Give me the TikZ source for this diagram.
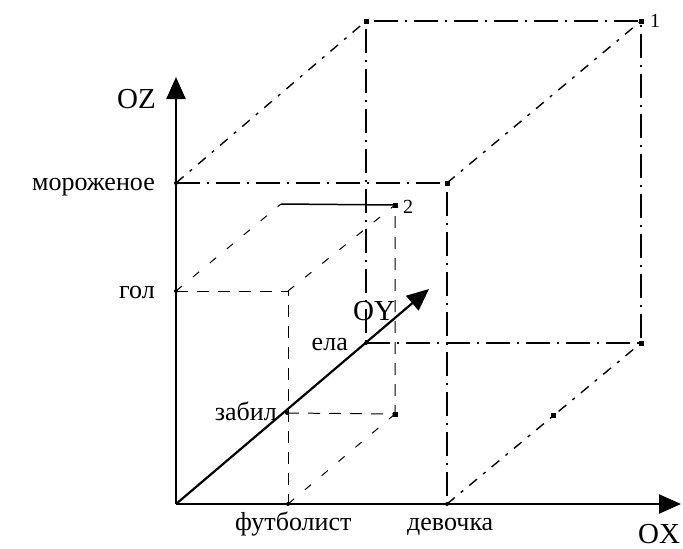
\documentclass[tikz,border=0pt]{standalone}
\usepackage{fontspec}
\setmainfont{Liberation Serif}
\usetikzlibrary{arrows.meta,positioning}

\tikzset{
  axis/.style={line width=2.2pt, -{Triangle[length=22pt,width=19pt]}},
  dashbox/.style={line width=1pt, dash pattern=on 12pt off 9pt},
  dashdiag/.style={line width=1pt, dash pattern=on 8pt off 14pt},
  dotbox/.style={line width=1.3pt, dash pattern=on 24pt off 7pt on 2pt off 7pt},
  dotdiag/.style={line width=1.4pt, dash pattern=on 10pt off 8pt on 3pt off 8pt},
  sqdot/.style={fill, inner sep=0pt, minimum size=5pt},
  axdot/.style={fill, circle, inner sep=0pt, minimum size=4pt},
  lbl/.style={inner sep=0pt, font=\fontsize{26}{28}\selectfont},
  axlbl/.style={inner sep=0pt, font=\fontsize{29}{32}\selectfont},
  numlbl/.style={inner sep=0pt, font=\fontsize{20}{22}\selectfont},
}

\begin{document}
\begin{tikzpicture}[x=1pt,y=-1pt]
    \useasboundingbox (0,0) rectangle (683,549);

    % points on the axes
    \coordinate (O) at (176,504);
    \coordinate (xend) at (681,504);
    \coordinate (zend) at (176,77);
    \coordinate (yend) at (429,289);
    \coordinate (fut) at (288,504);
    \coordinate (dev) at (447,504);
    \coordinate (gol) at (176,291);
    \coordinate (mor) at (176,183);
    \coordinate (zab) at (287,413);
    \coordinate (ela) at (366,343);

    % corners of the box of point 2
    \coordinate (golfut) at (288,291);
    \coordinate (golzab) at (281,204);
    \coordinate (p2) at (395,205);
    \coordinate (p2low) at (395,414);

    % corners of the box of point 1
    \coordinate (mordev) at (447,183);
    \coordinate (morela) at (366,21);
    \coordinate (p1) at (641,21);
    \coordinate (p1low) at (641,343);

    % box of point 2
    \draw[dashbox] (gol) -- (golfut) -- (fut);
    \draw[dashbox] (zab) -- (p2low) -- (p2);
    \draw[dashdiag] (gol) -- (golzab);
    \draw[dashdiag] (golfut) -- (p2);
    \draw[dashdiag] (fut) -- (p2low);
    \draw[line width=1.5pt] (golzab) -- (p2);

    % box of point 1
    \draw[dotbox] (mor) -- (mordev) -- (dev);
    \draw[dotbox] (ela) -- (p1low) -- (p1) -- (morela) -- (ela);
    \draw[dotdiag] (mor) -- (morela);
    \draw[dotdiag] (mordev) -- (p1);
    \draw[dotdiag] (dev) -- node[sqdot, pos=0.55] (mid1) {} (p1low);

    % axes
    \draw[axis] (O) -- (xend);
    \draw[axis] (O) -- (zend);
    \draw[axis] (O) -- (yend);

    % marks
    \foreach \p in {fut,dev,gol,mor,zab,ela}
        \node[axdot] (d\p) at (\p) {};
    \foreach \p in {p1,p2,p2low,morela,mordev,p1low}
        \node[sqdot] (s\p) at (\p) {};

    % labels
    \node[axlbl, anchor=base west] (lz) at (117,108) {OZ};
    \node[axlbl, anchor=base west] (lx) at (638,543) {OX};
    \node[axlbl, anchor=base west] (ly) at (353,320) {OY};
    \node[lbl, anchor=base east] (lmor) at (155,190) {мороженое};
    \node[lbl, anchor=base east] (lgol) at (155,298) {гол};
    \node[lbl, anchor=base east] (lzab) at (277,420) {забил};
    \node[lbl, anchor=base east] (lela) at (348,350) {ела};
    \node[lbl, anchor=base west] (lfut) at (235,530) {футболист};
    \node[lbl, anchor=base west] (ldev) at (407,530) {девочка};
    \node[numlbl, anchor=base west] (l1) at (650,27) {1};
    \node[numlbl, anchor=base west] (l2) at (403,213) {2};
\end{tikzpicture}
\end{document}
